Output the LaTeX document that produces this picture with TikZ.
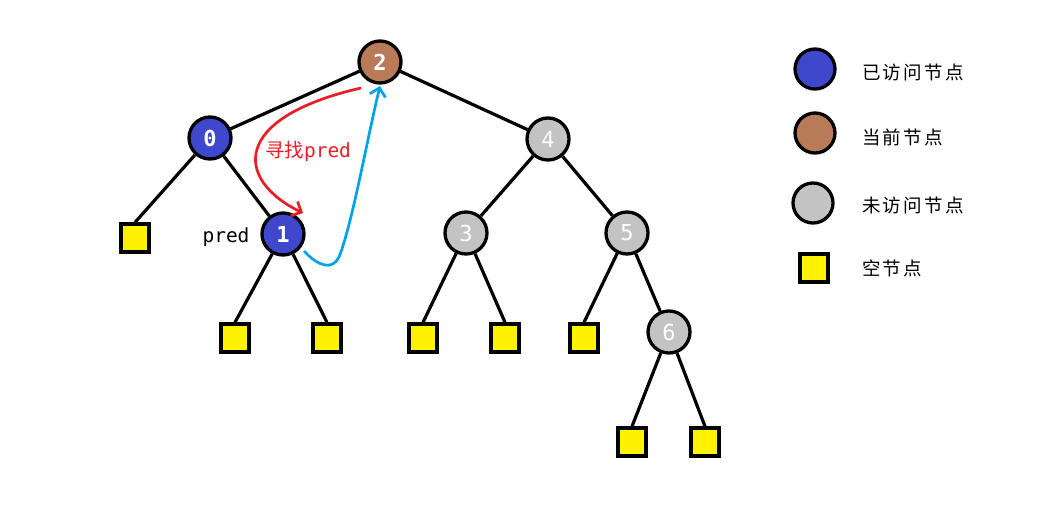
\documentclass[tikz,border=0pt]{standalone}
\usepackage{fontspec}
\newfontfamily\cjk[LetterSpace=12]{Noto Sans CJK SC}
\newfontfamily\cjkred{Noto Sans CJK SC}
\newfontfamily\mono{DejaVu Sans Mono}
\usetikzlibrary{arrows.meta}
\definecolor{visited}{HTML}{3F48CC}
\definecolor{current}{HTML}{B97A57}
\definecolor{unvisited}{HTML}{C3C3C3}
\definecolor{nullc}{HTML}{FFF200}
\definecolor{findred}{HTML}{ED1C24}
\definecolor{backblue}{HTML}{00A2E8}
\tikzset{
  tnode/.style={circle,draw=black,line width=3.3pt,minimum size=42pt,inner sep=0pt,text=white,font=\mono\fontsize{22}{22}\selectfont},
  vis/.style={tnode,fill=visited,font=\mono\bfseries\fontsize{22}{22}\selectfont},
  cur/.style={tnode,fill=current,font=\mono\bfseries\fontsize{22}{22}\selectfont},
  unv/.style={tnode,fill=unvisited},
  nullbox/.style={rectangle,draw=black,line width=3.3pt,fill=nullc,minimum size=28pt,inner sep=0pt},
  edge/.style={line width=3.2pt,black},
  legendtext/.style={anchor=west,inner sep=0pt,font=\cjk\fontsize{18.5}{18.5}\selectfont},
}
\begin{document}
\begin{tikzpicture}[x=1pt,y=-1pt]
\path[use as bounding box] (0,0) rectangle (1059,517);
% tree nodes
\node[cur] (n2) at (380,62) {2};
\node[vis] (n0) at (210,138) {0};
\node[unv] (n4) at (548,139) {4};
\node[vis] (n1) at (283,234) {1};
\node[unv] (n3) at (466,233) {3};
\node[unv] (n5) at (627,233) {5};
\node[unv] (n6) at (669,332) {6};
% null nodes
\node[nullbox] (s0) at (135,238) {};
\node[nullbox] (s1l) at (235,338) {};
\node[nullbox] (s1r) at (327,338) {};
\node[nullbox] (s3l) at (423,338) {};
\node[nullbox] (s3r) at (505,338) {};
\node[nullbox] (s5l) at (584,338) {};
\node[nullbox] (s6l) at (632,442) {};
\node[nullbox] (s6r) at (705,442) {};
% edges
\draw[edge] (n2) -- (n0);
\draw[edge] (n2) -- (n4);
\draw[edge] (n0) -- (s0.north);
\draw[edge] (n0) -- (n1);
\draw[edge] (n1) -- (s1l.north);
\draw[edge] (n1) -- (s1r.north);
\draw[edge] (n4) -- (n3);
\draw[edge] (n4) -- (n5);
\draw[edge] (n3) -- (s3l.north);
\draw[edge] (n3) -- (s3r.north);
\draw[edge] (n5) -- (s5l.north);
\draw[edge] (n5) -- (n6);
\draw[edge] (n6) -- (s6l.north);
\draw[edge] (n6) -- (s6r.north);
% labels
\node[inner sep=0pt,font=\mono\fontsize{19.5}{19.5}\selectfont] (predlbl) at (226,237) {pred};
\node[inner sep=0pt,text=findred] (findlbl) at (308,151) {{\cjkred\fontsize{19.5}{19.5}\selectfont 寻找}{\mono\fontsize{19.5}{19.5}\selectfont pred}};
% arrows
\coordinate (rstart) at (361,88);
\coordinate (rend) at (303,213);
\draw[findred,line width=2.7pt,-{Straight Barb[length=8pt,width=16pt,line width=2.7pt]}]
  (rstart) .. controls (230,118) and (235,180) .. (rend);
\coordinate (bstart) at (304,251);
\coordinate (bmid) at (339,257);
\coordinate (bend) at (380,86);
\draw[backblue,line width=2.7pt,-{Straight Barb[length=8pt,width=16pt,line width=2.7pt]}]
  (bstart) .. controls (318,266) and (332,271) .. (bmid) .. controls (352,225) and (368,135) .. (bend);
% legend
\node[tnode,fill=visited,minimum size=40pt] (lg1) at (815,69) {};
\node[tnode,fill=current,minimum size=40pt] (lg2) at (815,133) {};
\node[tnode,fill=unvisited,minimum size=40pt] (lg3) at (813,203) {};
\node[nullbox] (lg4) at (814,268) {};
\node[legendtext] (lt1) at (862,72) {已访问节点};
\node[legendtext] (lt2) at (862,137) {当前节点};
\node[legendtext] (lt3) at (862,205) {未访问节点};
\node[legendtext] (lt4) at (862,268) {空节点};
\end{tikzpicture}
\end{document}
